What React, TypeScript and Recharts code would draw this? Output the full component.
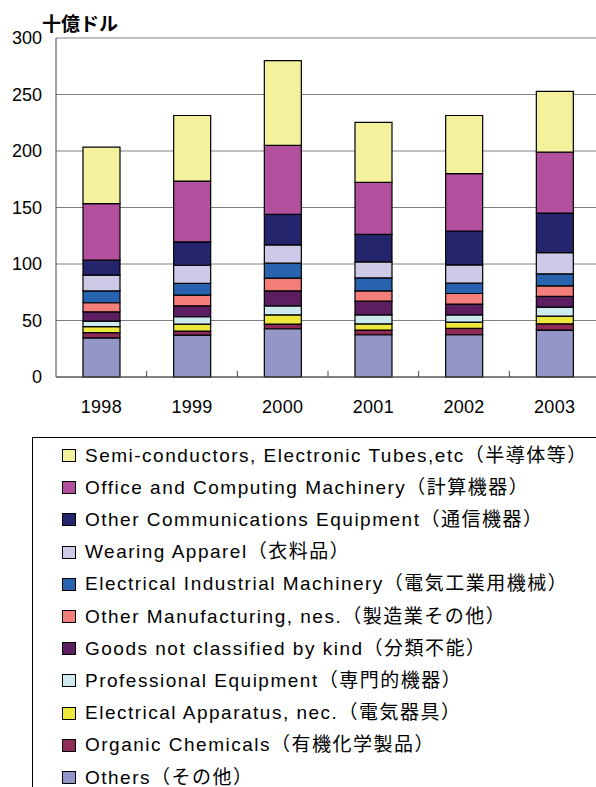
import { BarChart, Bar, XAxis, YAxis, CartesianGrid } from 'recharts';

const years = ['1998', '1999', '2000', '2001', '2002', '2003'];

// 十億ドル, bottom of stack first
const others = [34.7, 37.1, 42.7, 37.4, 37.4, 41.5];
const organic = [4.5, 3.5, 4.1, 4.1, 5.6, 5.6];
const elecApparatus = [5.3, 6.2, 8.2, 5.6, 5.6, 6.8];
const professional = [5.0, 6.5, 8.0, 7.9, 6.4, 7.9];
const goodsNotClassified = [8.2, 9.7, 13.2, 12.1, 9.5, 9.5];
const otherMfg = [8.0, 9.4, 11.3, 9.1, 9.4, 9.4];
const elecIndustrial = [10.5, 10.4, 13.2, 11.5, 9.1, 10.6];
const apparel = [13.9, 16.1, 16.2, 14.2, 16.2, 18.8];
const communications = [13.3, 20.6, 27.1, 24.4, 30.0, 35.0];
const office = [50.0, 53.9, 60.9, 46.0, 50.7, 53.9];
const semiconductors = [50.0, 58.0, 75.0, 53.0, 51.5, 53.7];

const yTicks = [0, 50, 100, 150, 200, 250, 300];

const series = [
  { key: 'others', name: 'Others（その他）', color: '#9596c8', values: others },
  { key: 'organic', name: 'Organic Chemicals（有機化学製品）', color: '#8f2b56', values: organic },
  { key: 'elecApparatus', name: 'Electrical Apparatus, nec.（電気器具）', color: '#eee83c', values: elecApparatus },
  { key: 'professional', name: 'Professional Equipment（専門的機器）', color: '#cdebef', values: professional },
  { key: 'goods', name: 'Goods not classified by kind（分類不能）', color: '#5c1e60', values: goodsNotClassified },
  { key: 'otherMfg', name: 'Other Manufacturing, nes.（製造業その他）', color: '#f47f7a', values: otherMfg },
  { key: 'elecIndustrial', name: 'Electrical Industrial Machinery（電気工業用機械）', color: '#2763ae', values: elecIndustrial },
  { key: 'apparel', name: 'Wearing Apparel（衣料品）', color: '#cccae6', values: apparel },
  { key: 'comm', name: 'Other Communications Equipment（通信機器）', color: '#25256e', values: communications },
  { key: 'office', name: 'Office and Computing Machinery（計算機器）', color: '#b3509d', values: office },
  { key: 'semi', name: 'Semi-conductors, Electronic Tubes,etc（半導体等）', color: '#f3f19c', values: semiconductors },
];

const rows = years.map((y, i) => {
  const r: any = { year: y };
  series.forEach(s => { r[s.key] = s.values[i]; });
  return r;
});

const halfBand = 544 / 6 / 2;

function YearTick(props: any) {
  const { x, y, payload } = props;
  return (
    <g>
      <line x1={x + halfBand} x2={x + halfBand} y1={y - 6} y2={y} stroke="#444" />
      <text x={x} y={y + 36} textAnchor="middle" fontSize={18} letterSpacing={0.3} fill="#000">{payload.value}</text>
    </g>
  );
}

export default function App() {
  return (
    <div style={{ position: 'absolute', left: 0, top: 0, width: 596, height: 787, overflow: 'hidden', background: '#fff', fontFamily: "'Liberation Sans', Arial, 'Noto Sans CJK JP', sans-serif" }}>
      <div style={{ position: 'absolute', left: 42, top: 13, fontSize: 19, fontWeight: 'bold', lineHeight: '19px', fontFamily: "'Noto Sans CJK JP', sans-serif" }}>十億ドル</div>
      <div style={{ position: 'absolute', left: 0, top: 0 }}>
        <BarChart width={640} height={420} data={rows} margin={{ top: 38, right: 40, left: 0, bottom: 13 }}>
          <CartesianGrid vertical={false} stroke="#808080" />
          <XAxis dataKey="year" height={30} tickLine={false} tickSize={0} tickMargin={0} axisLine={{ stroke: '#444' }} tick={<YearTick />} interval={0} />
          <YAxis width={56} domain={[0, 300]} ticks={yTicks} tickLine={false} tickSize={0} tickMargin={14} axisLine={{ stroke: '#444' }} tick={{ fontSize: 18, fill: '#000' }} />
          {series.map(s => (
            <Bar key={s.key} dataKey={s.key} name={s.name} stackId="a" fill={s.color} stroke="#000" strokeWidth={1.2} barSize={37} isAnimationActive={false} />
          ))}
        </BarChart>
      </div>
      <div style={{ position: 'absolute', left: 32, top: 437, width: 600, height: 349, borderLeft: '1px solid #000', borderTop: '1px solid #000' }}>
        {series.slice().reverse().map((s, i) => (
          <div key={s.key} style={{ position: 'absolute', left: 29, top: 7.5 + i * 32.2, height: 20, lineHeight: '20px', display: 'flex', alignItems: 'center', whiteSpace: 'nowrap', fontSize: 19, letterSpacing: 1.5, color: '#000' }}>
            <span style={{ display: 'inline-block', width: 12, height: 11, background: s.color, border: '1px solid #000', marginRight: 9 }} />
            <span style={{ lineHeight: '20px' }}>{s.name}</span>
          </div>
        ))}
      </div>
    </div>
  );
}
